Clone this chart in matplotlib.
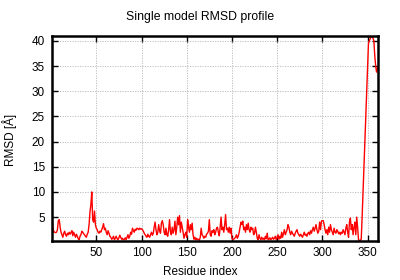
import matplotlib
matplotlib.use("Agg")
import matplotlib.pyplot as plt
import numpy as np

plt.rcParams['font.family'] = ['Liberation Sans', 'DejaVu Sans']

title = "Single model RMSD profile"
xlabel = "Residue index"
ylabel = "RMSD [Å]"
xticks = [50, 100, 150, 200, 250, 300, 350]
yticks = [5, 10, 15, 20, 25, 30, 35, 40]

rmsd_001_050 = [5.8, 3.0, 2.0, 2.0, 1.9, 2.0, 2.5, 4.3, 4.5, 3.0,
                2.0, 1.5, 1.0, 1.8, 2.2, 1.5, 1.2, 1.8, 1.5, 2.0,
                1.6, 1.9, 2.3, 1.3, 2.0, 1.5, 1.0, 1.6, 1.2, 0.7,
                0.5, 1.2, 1.5, 2.2, 2.0, 1.7, 1.5, 1.2, 1.0, 1.6,
                2.0, 3.5, 6.0, 7.5, 10.0, 4.5, 4.0, 6.2, 3.5, 2.8]
rmsd_051_100 = [2.5, 2.0, 1.8, 2.2, 2.0, 2.5, 3.0, 3.7, 2.5, 2.8,
                2.0, 1.5, 2.3, 1.8, 1.2, 1.0, 0.6, 0.8, 1.2, 0.5,
                0.8, 1.2, 0.7, 0.5, 0.9, 1.4, 1.0, 0.6, 0.8, 0.45,
                0.6, 0.9, 0.5, 1.0, 1.5, 0.8, 1.2, 2.0, 1.6, 2.8,
                2.3, 2.0, 2.6, 2.4, 2.8, 2.7, 2.5, 2.8, 2.6, 2.7]
rmsd_101_150 = [2.5, 2.2, 1.8, 1.5, 1.2, 1.0, 1.6, 1.2, 1.0, 1.5,
                2.0, 1.4, 1.8, 3.0, 4.0, 2.5, 1.5, 2.0, 3.5, 2.3,
                1.8, 3.8, 4.3, 3.5, 2.0, 1.5, 2.8, 1.5, 1.2, 2.5,
                4.5, 2.0, 1.5, 3.0, 1.8, 2.5, 4.2, 1.5, 3.0, 5.0,
                3.5, 5.3, 2.0, 4.0, 3.0, 2.0, 0.8, 1.5, 2.0, 1.0]
rmsd_151_200 = [4.5, 3.0, 2.0, 3.5, 2.5, 3.8, 1.5, 0.6, 1.0, 0.5,
                0.8, 0.5, 0.6, 0.4, 1.0, 2.8, 1.5, 1.2, 0.8, 1.2,
                1.0, 1.6, 1.8, 2.2, 4.5, 1.5, 1.2, 2.3, 2.0, 2.5,
                1.5, 2.0, 2.8, 3.0, 2.0, 1.3, 3.0, 5.0, 2.5, 3.0,
                2.0, 3.5, 5.5, 2.5, 2.8, 2.0, 3.0, 1.8, 2.8, 0.8]
rmsd_201_250 = [0.5, 0.6, 0.8, 1.0, 1.5, 0.8, 1.2, 2.0, 3.0, 4.0,
                3.5, 4.2, 2.5, 3.0, 2.0, 3.5, 2.5, 3.8, 2.5, 2.0,
                3.0, 2.5, 2.8, 1.5, 1.8, 3.0, 2.0, 0.8, 0.5, 1.5,
                0.8, 0.5, 1.0, 0.6, 0.8, 0.5, 1.2, 0.7, 1.8, 0.5,
                0.6, 0.9, 0.5, 0.7, 1.0, 0.6, 0.8, 1.2, 0.5, 0.9]
rmsd_251_300 = [1.5, 0.6, 1.2, 0.8, 2.0, 1.0, 1.8, 2.5, 1.5, 2.0,
                2.5, 3.5, 3.0, 2.0, 1.5, 2.2, 1.8, 1.5, 1.2, 1.8,
                2.2, 2.5, 1.8, 1.5, 1.2, 1.6, 1.3, 1.0, 1.5, 2.0,
                1.4, 1.6, 1.2, 1.8, 2.0, 1.5, 2.3, 1.8, 2.5, 3.0,
                2.2, 2.8, 3.5, 2.5, 1.8, 2.2, 4.0, 2.5, 4.2, 4.3]
rmsd_301_362 = [4.3, 3.5, 2.5, 1.8, 2.5, 1.5, 3.0, 2.0, 3.5, 2.5,
                2.0, 1.5, 2.8, 2.0, 1.8, 2.5, 2.2, 1.7, 2.0, 1.5,
                2.0, 1.8, 2.5, 2.0, 1.5, 2.8, 3.5, 2.0, 1.0, 4.0,
                4.8, 2.5, 3.5, 1.5, 3.0, 4.0, 1.5, 5.0, 3.0, 0.5,
                0.35, 0.4, 0.6, 5.0, 10.0, 15.0, 20.0, 25.0, 30.0, 35.0,
                39.5, 40.0, 40.5, 40.8, 41.0, 40.5, 40.0, 37.0, 35.0, 33.8,
                34.5, 35.0]

rmsd = (rmsd_001_050 + rmsd_051_100 + rmsd_101_150 + rmsd_151_200 +
        rmsd_201_250 + rmsd_251_300 + rmsd_301_362)
residues = list(range(1, len(rmsd) + 1))

fig = plt.figure(figsize=(4.0, 2.8), dpi=100)
ax = fig.add_axes([0.13, 0.141, 0.816, 0.731])
ax.plot(residues, rmsd, color='#ff0000', linewidth=1.0)
ax.set_xlim(min(residues), max(residues))
ax.set_ylim(min(rmsd), max(rmsd))
ax.set_xticks(xticks)
ax.set_yticks(yticks)
ax.grid(True, color='#b8b8b8', linestyle=(0, (1.5, 1.5)), linewidth=0.6)
ax.tick_params(direction='in', top=True, right=True, length=4, width=1.0,
               labelsize=8.5, pad=5, colors='black')
for s in ax.spines.values():
    s.set_linewidth(1.8)
    s.set_color('black')
fig.text(0.5, 0.94, title, ha='center', va='center', fontsize=8.8)
fig.text(0.5, 0.03, xlabel, ha='center', va='center', fontsize=8.5)
fig.text(0.025, 0.5, ylabel, ha='center', va='center', rotation=90, fontsize=8.5)
fig.savefig("out.png", dpi=100)
